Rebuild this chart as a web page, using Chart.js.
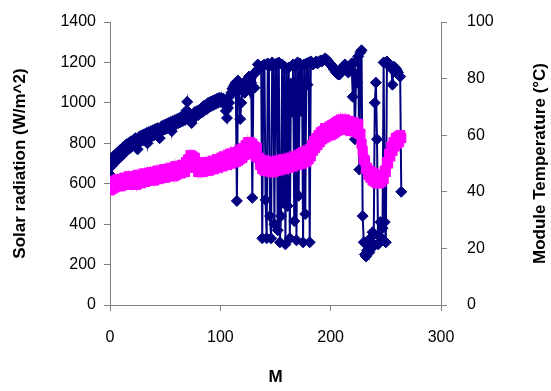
<!DOCTYPE html>
<html>
<head>
<meta charset="utf-8">
<script src="https://cdn.jsdelivr.net/npm/chart.js@4/dist/chart.umd.min.js"></script>
<style>
  html, body { margin: 0; padding: 0; background: #fff; }
  canvas { display: block; }
</style>
</head>
<body>
<canvas id="chart" width="551" height="391"></canvas>
<script>
// Solar radiation (W/m^2), one value per M step, starting at M = 0
const radiation = [
  700, 640, 690, 735, 705, 745, 715, 755, 725, 765,
  735, 775, 745, 785, 760, 795, 770, 800, 775, 810,
  785, 815, 790, 825, 800, 770, 805, 835, 810, 840,
  815, 845, 820, 850, 800, 855, 830, 860, 835, 865,
  840, 870, 845, 875, 850, 825, 860, 885, 865, 890,
  870, 895, 875, 900, 880, 905, 860, 910, 890, 915,
  895, 920, 900, 925, 905, 930, 910, 935, 915, 960,
  1005, 955, 925, 910, 900, 935, 925, 955, 935, 960,
  940, 965, 950, 975, 955, 985, 965, 990, 970, 1000,
  980, 1005, 985, 1010, 990, 1015, 995, 1020, 1000, 1025,
  1005, 1025, 1010, 1020, 990, 960, 925, 975, 1000, 1035,
  1050, 1070, 1080, 1090, 1100, 515, 1110, 1100, 920, 1000,
  1060, 1080, 1050, 1090, 1110, 1120, 1130, 1060, 1100, 530,
  1140, 1075, 1150, 1160, 1190, 1170, 1175, 1180, 330, 1185,
  1190, 520, 330, 1195, 1180, 440, 330, 1200, 1190, 400,
  1185, 1195, 370, 1200, 310, 440, 1190, 505, 1180, 300,
  1170, 490, 1175, 330, 1095, 955, 1190, 415, 1180, 320,
  1200, 540, 1195, 960, 1185, 310, 1190, 450, 1195, 1090,
  1200, 310, 1205, 1195, 1190, 1195, 1200, 1205, 1195, 1200,
  1205, 1210, 1205, 1210, 1215, 1220, 1215, 1210, 1200, 1195,
  1190, 1185, 1175, 1165, 1160, 1150, 1145, 1140, 1140, 1150,
  1160, 1175, 1185, 1190, 1180, 1165, 1150, 1180, 1170, 1195,
  1030, 1195, 820, 1140, 1100, 1230, 670, 1250, 1260, 440,
  310, 250, 240, 270, 300, 260, 330, 280, 360, 300,
  1000, 1100, 820, 300, 340, 410, 330, 380, 1200, 410,
  310, 1205, 1190, 1185, 1180, 1170, 1090, 1180, 1175, 1170,
  1160, 1150, 1135, 1130, 560
];

// Module temperature (°C), same M steps
const temperature = [
  40.5, 43, 41, 43.5, 41.5, 44, 42, 44.5, 42, 44,
  42, 44.5, 42.5, 45, 42.5, 44.5, 42.5, 45.5, 43, 45,
  42.5, 45.5, 43, 45, 42.5, 46, 43.5, 45.5, 43, 46,
  43.5, 46.5, 43.5, 46, 44, 46.5, 44, 47, 44.5, 46.5,
  44, 47, 44.5, 47.5, 44.5, 47, 45, 47.5, 45, 48,
  45, 47.5, 45.5, 48, 45.5, 48.5, 46, 48, 45.5, 49,
  46, 49, 46.5, 48.5, 46.5, 49.5, 47, 49.5, 47, 50.5,
  48.5, 51.5, 50, 53, 50.5, 52.5, 49.5, 52, 48.5, 50.5,
  47, 50, 47, 49.5, 47, 50, 47.5, 50.5, 47.5, 50,
  47.5, 50.5, 48, 51, 48, 50.5, 48.5, 51.5, 48.5, 51.5,
  49, 52, 49, 52.5, 49.5, 52, 49.5, 53, 50, 53.5,
  50, 53, 50.5, 54, 50.5, 53.5, 51, 54.5, 51.5, 55,
  52, 55.5, 53, 56.5, 54, 57.5, 54.5, 57.5, 54, 57,
  53.5, 56, 52.5, 55.5, 52, 52, 49.5, 51, 48, 51,
  47.5, 51, 47.5, 50.5, 47.5, 50.5, 47, 50, 47, 50.5,
  47.5, 51, 47.5, 50.5, 48, 51, 48, 51.5, 48, 51,
  48.5, 51.5, 48.5, 52, 49, 52, 49, 52.5, 49.5, 52.5,
  49.5, 53, 50, 53.5, 50, 54, 50.5, 53.5, 50.5, 54.5,
  51.5, 55, 52.5, 56.5, 54.5, 58, 55.5, 59, 56.5, 60,
  57.5, 61, 58.5, 61.5, 59, 62.5, 59.5, 62.5, 60, 63,
  60, 63.5, 60.5, 64, 61, 64.5, 61.5, 65, 62, 65.5,
  62.5, 65.5, 62.5, 65.5, 62, 65, 62, 65, 61.5, 64.5,
  61.5, 64.5, 61.5, 64, 61, 64, 60.5, 60.5, 57, 54.5,
  51.5, 51, 48, 48.5, 46, 47.5, 45, 47, 44, 46.5,
  43.5, 46, 43, 45.5, 43, 45.5, 43.5, 46, 44.5, 47.5,
  47, 50.5, 50, 53.5, 52.5, 56, 54.5, 57.5, 56, 59,
  57, 59.5, 57.5, 60, 59
];

const xTicks = [0, 100, 200, 300];
const yTicks = [0, 200, 400, 600, 800, 1000, 1200, 1400];
const y2Ticks = [0, 20, 40, 60, 80, 100];

const FONT = "'Liberation Sans', Arial, sans-serif";
const AXIS = '#808080';

const toPoints = arr => arr.map((v, i) => ({ x: i, y: v }));

// right title reads bottom-to-top like the left one
const rightTitle = {
  id: 'rightTitle',
  afterDraw(chart) {
    const ctx = chart.ctx;
    const a = chart.chartArea;
    ctx.save();
    ctx.translate(540, (a.top + a.bottom) / 2);
    ctx.rotate(-Math.PI / 2);
    ctx.font = 'bold 17px ' + FONT;
    ctx.fillStyle = '#000';
    ctx.textAlign = 'center';
    ctx.textBaseline = 'middle';
    ctx.fillText('Module Temperature (°C)', 0, 0);
    ctx.restore();
  }
};

const gridOpts = { drawOnChartArea: false, drawTicks: true, tickLength: 6, color: AXIS, tickColor: AXIS };
const tickFont = { family: FONT, size: 16 };
const plainTicks = pad => ({ color: '#000', font: tickFont, padding: pad, autoSkip: false, maxRotation: 0, callback: v => String(v) });

// fixed box size; label padding must not push the plot area down
const fitY = w => s => { s.width = w; s.paddingTop = 0; s.paddingBottom = 0; };

new Chart(document.getElementById('chart'), {
  type: 'scatter',
  data: {
    datasets: [
      {
        label: 'Module Temperature',
        data: toPoints(temperature),
        yAxisID: 'y2',
        showLine: true,
        borderColor: '#ff00ff',
        backgroundColor: '#ff00ff',
        borderWidth: 2,
        pointStyle: 'rect',
        pointRadius: 6.5,
        pointBorderWidth: 1,
        order: 1
      },
      {
        label: 'Solar radiation',
        data: toPoints(radiation),
        yAxisID: 'y',
        showLine: true,
        borderColor: '#000080',
        backgroundColor: '#000080',
        borderWidth: 2,
        pointStyle: 'rectRot',
        pointRadius: 5.5,
        pointBorderWidth: 1,
        order: 2
      }
    ]
  },
  options: {
    responsive: false,
    animation: false,
    devicePixelRatio: 1,
    layout: { padding: { top: 22, left: 0, right: 0, bottom: 0 } },
    plugins: { legend: { display: false }, tooltip: { enabled: false } },
    scales: {
      x: {
        type: 'linear',
        min: 0, max: 300,
        afterBuildTicks: s => { s.ticks = xTicks.map(v => ({ value: v })); },
        afterFit: s => { s.height = 86; },
        grid: gridOpts,
        border: { color: AXIS },
        ticks: plainTicks(17),
        title: { display: true, text: 'M', color: '#000', font: { family: FONT, size: 17, weight: 'bold' }, padding: { top: 0, bottom: 3 } }
      },
      y: {
        position: 'left',
        min: 0, max: 1400,
        afterBuildTicks: s => { s.ticks = yTicks.map(v => ({ value: v })); },
        afterFit: fitY(110),
        grid: gridOpts,
        border: { color: AXIS },
        ticks: plainTicks(8),
        title: { display: true, text: 'Solar radiation (W/m^2)', color: '#000', font: { family: FONT, size: 17, weight: 'bold' }, padding: { top: 10, bottom: 0 } }
      },
      y2: {
        position: 'right',
        min: 0, max: 100,
        afterBuildTicks: s => { s.ticks = y2Ticks.map(v => ({ value: v })); },
        afterFit: fitY(110),
        grid: gridOpts,
        border: { color: AXIS },
        ticks: plainTicks(20)
      }
    }
  },
  plugins: [rightTitle]
});
</script>
</body>
</html>
